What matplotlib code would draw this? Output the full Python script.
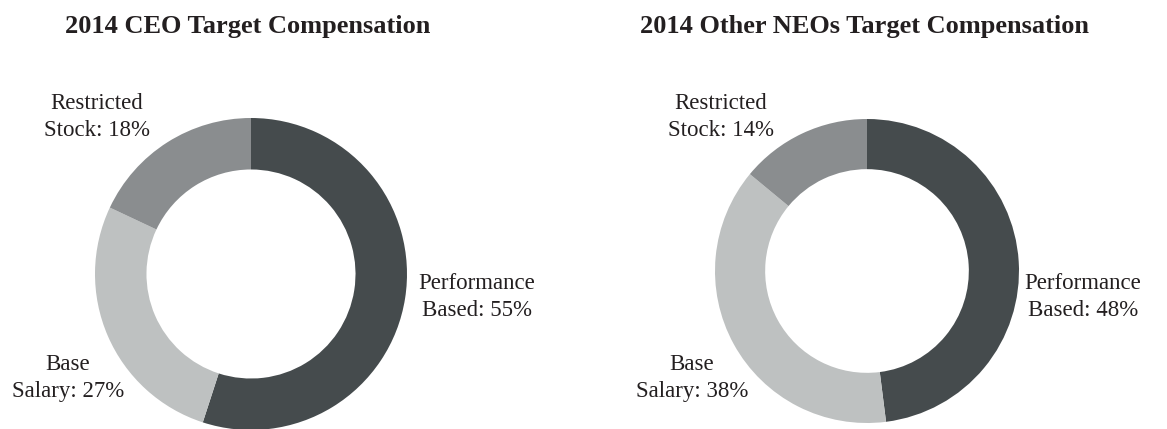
import matplotlib
matplotlib.use('Agg')
import matplotlib.pyplot as plt

W, H = 1167, 429

categories = ['Performance Based', 'Base Salary', 'Restricted Stock']
ceo_values = [55, 27, 18]
neo_values = [48, 38, 14]
titles = ['2014 CEO Target Compensation', '2014 Other NEOs Target Compensation']
colors = ['#454b4d', '#bec1c1', '#8a8d8f']

plt.rcParams['font.family'] = ['Liberation Serif', 'DejaVu Serif']

fig = plt.figure(figsize=(W / 100, H / 100), dpi=100)
fig.patch.set_facecolor('white')


def px(x, y):
    # pixel coords (from top-left) -> figure fraction
    return x / W, 1 - y / H


def donut(cx, cy, r, values):
    x0, y0 = px(cx - r, cy + r)
    ax = fig.add_axes([x0, y0, 2 * r / W, 2 * r / H])
    wedges, _ = ax.pie(values, colors=colors, startangle=90, counterclock=False,
                       radius=1, wedgeprops=dict(width=0.33, edgecolor='none'))
    for w in wedges:
        w.set_clip_on(False)
    ax.set_xlim(-1, 1)
    ax.set_ylim(-1, 1)
    ax.set_aspect('equal')
    ax.axis('off')
    return ax


donut(251, 274, 156, ceo_values)
donut(867, 271, 152, neo_values)

fig.text(*px(248, 27), titles[0], ha='center', va='center', fontsize=19, fontweight='bold',
         color='#231f20')
fig.text(*px(864, 27), titles[1], ha='center', va='center', fontsize=19, fontweight='bold',
         color='#231f20')

lab = dict(ha='center', va='center', fontsize=16.5, linespacing=1.42, color='#231f20')
left_pos = [(477, 297), (68, 378), (97, 117)]
right_pos = [(1083, 297), (692, 378), (721, 117)]
names = [('Performance', 'Based'), ('Base', 'Salary'), ('Restricted', 'Stock')]
for (n1, n2), v, (x, y) in zip(names, ceo_values, left_pos):
    fig.text(*px(x, y), f'{n1}\n{n2}: {v}%', **lab)
for (n1, n2), v, (x, y) in zip(names, neo_values, right_pos):
    fig.text(*px(x, y), f'{n1}\n{n2}: {v}%', **lab)

fig.savefig('out.png', dpi=100, facecolor='white')
